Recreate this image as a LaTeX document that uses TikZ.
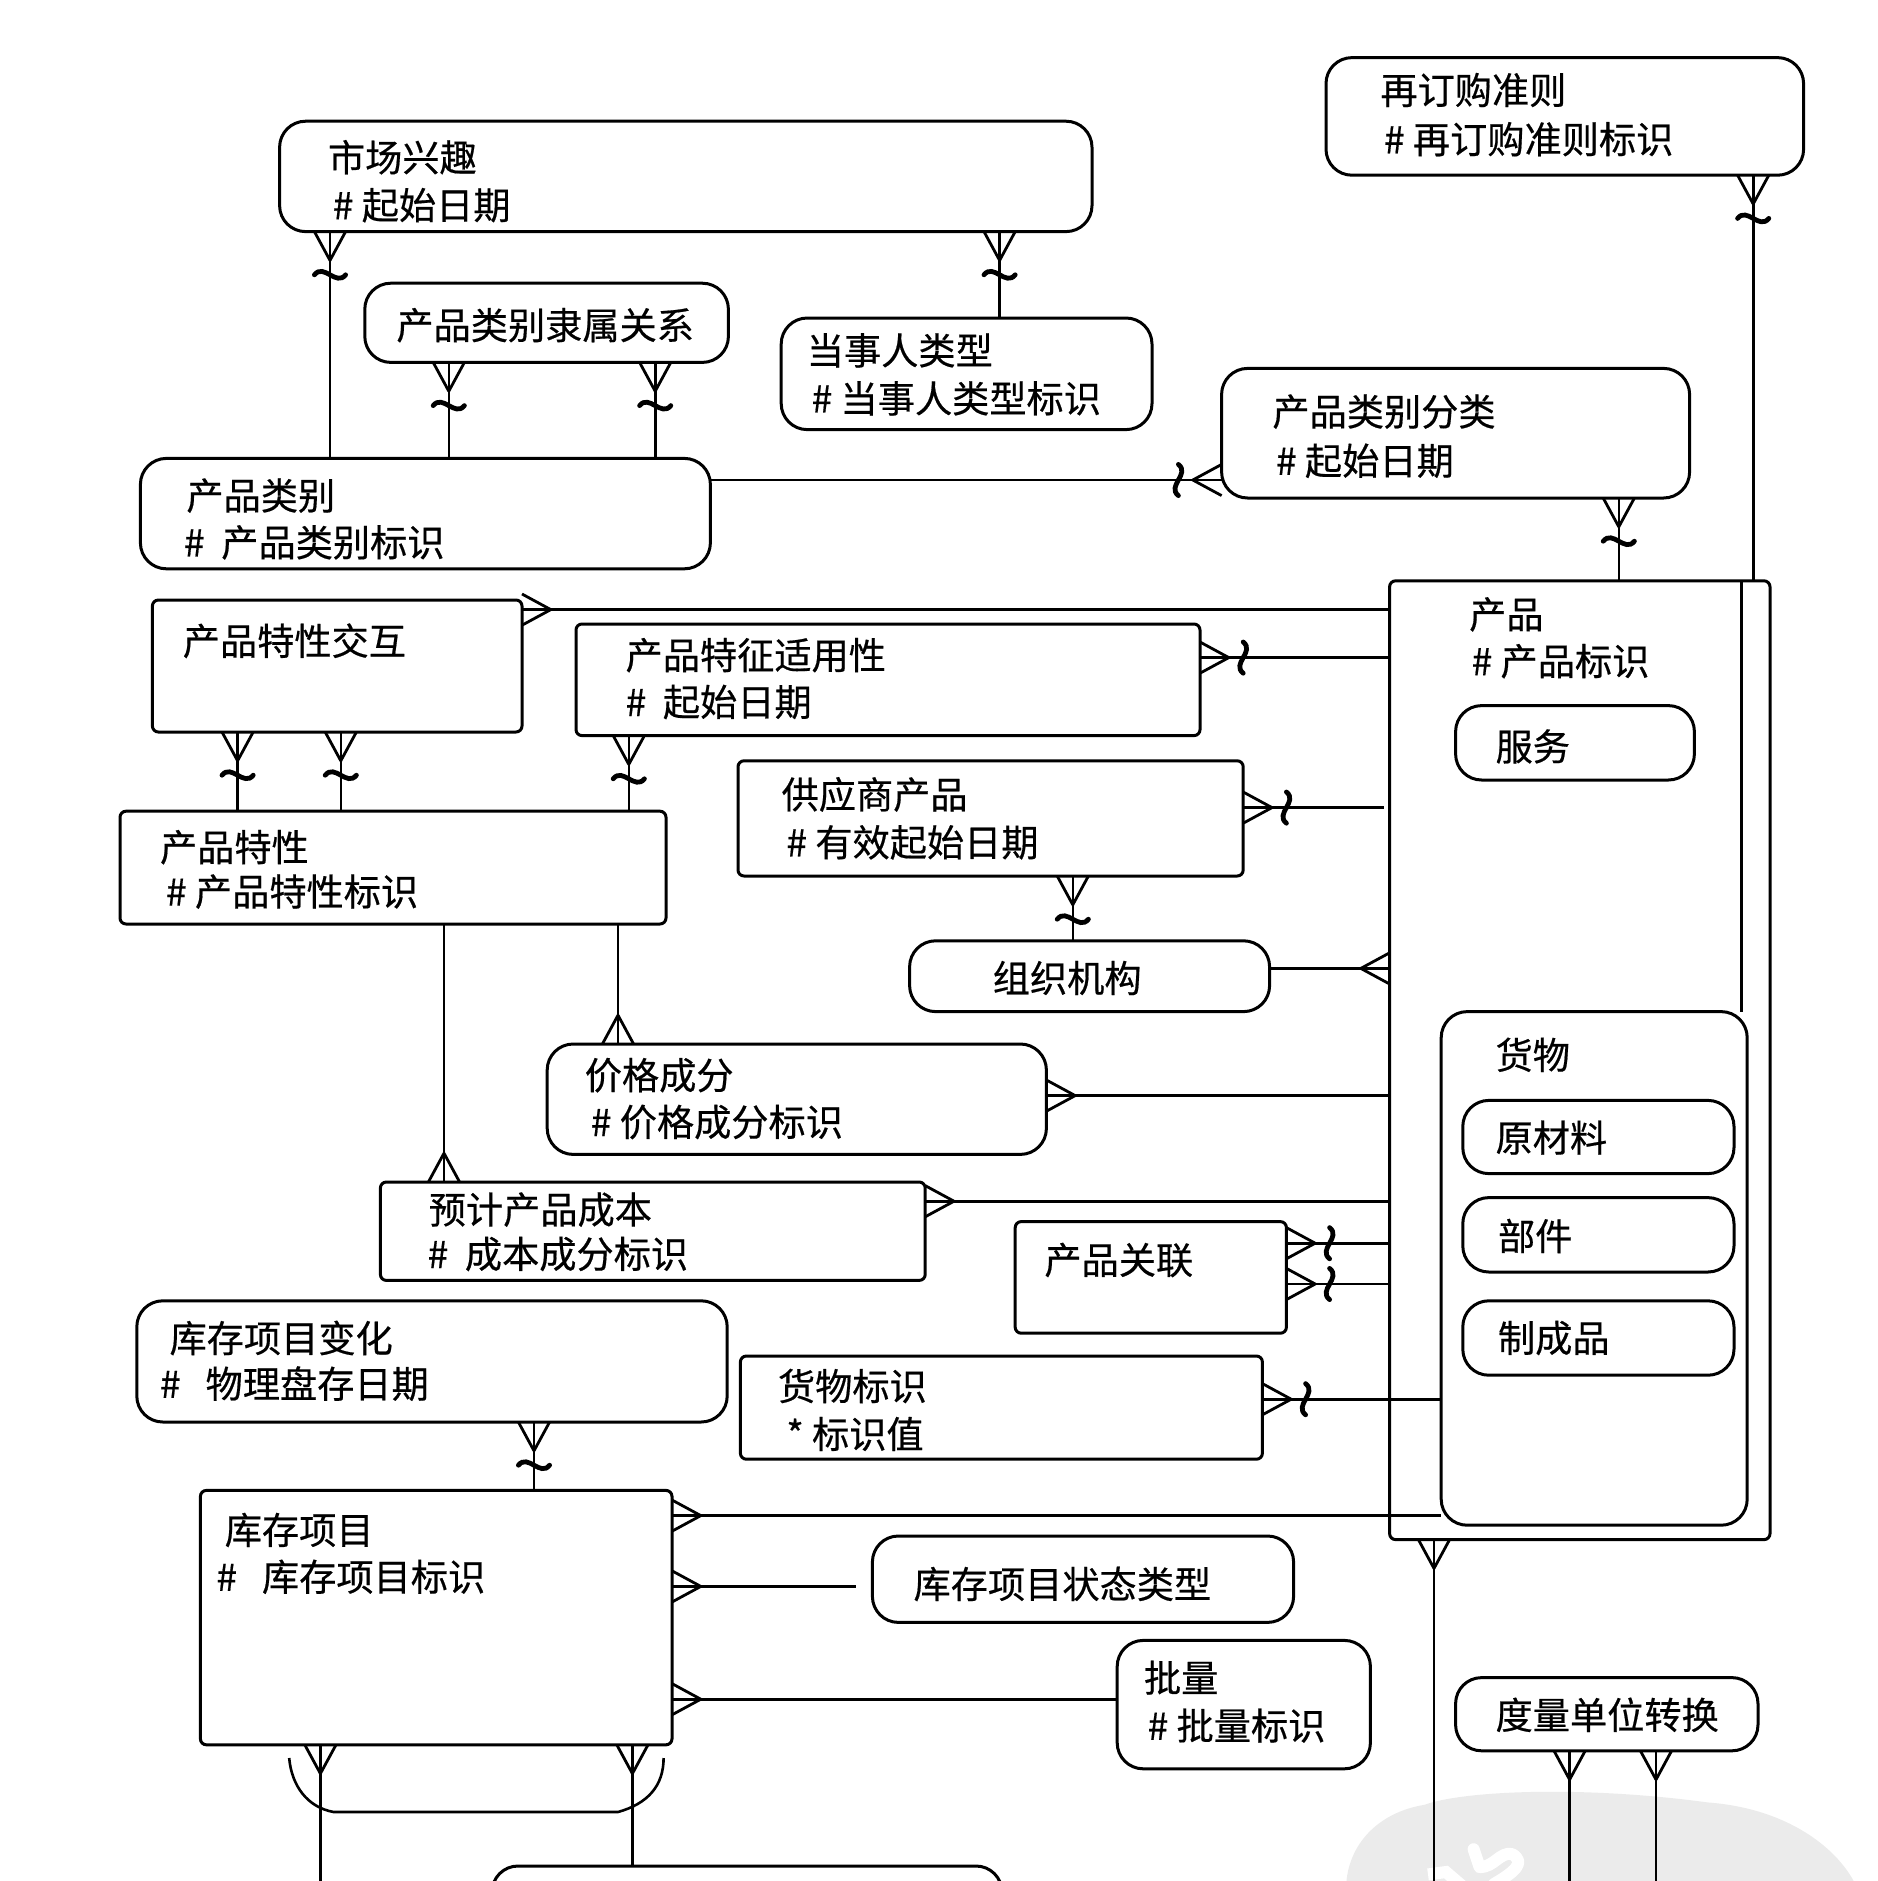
\documentclass[tikz,border=0pt]{standalone}
\usepackage{fontspec}
\setmainfont{Noto Sans CJK SC}[FakeBold=0.5]
\tikzset{
  rbox/.style={draw,line width=1.5pt,rounded corners=13pt,inner sep=0pt,outer sep=0pt},
  sbox/.style={draw,line width=1.5pt,rounded corners=3pt,inner sep=0pt,outer sep=0pt},
  lbl/.style={anchor=west,inner sep=0pt,font=\fontsize{18.6}{20}\selectfont},
  link/.style={line width=1.3pt},
  tipstart/.style={at start,sloped,allow upside down},
  crow/.pic={\draw[line width=1.4pt,line join=round](0,-13)--(24,0)--(0,13);},
  crowopt/.pic={\draw[line width=1.4pt,line join=round](0,-13)--(24,0)--(0,13);
    \draw[line width=2.4pt,line cap=round](36,-13).. controls (46,-5) and (26,5) ..(36,13);}
}
\begin{document}
\begin{tikzpicture}[x=0.6pt,y=-0.6pt]
\useasboundingbox (0,0) rectangle (1565,1567.5);
\clip (0,0) rectangle (1565,1567.5);
% watermark
\fill[black!8](1122,1568).. controls (1125,1535) and (1150,1510) .. (1187,1504)
  .. controls (1220,1492) and (1320,1488) .. (1423,1502)
  .. controls (1490,1507) and (1530,1540) .. (1545,1568) -- cycle;
\draw[white,line width=6pt,line cap=round,line join=round](1228,1541)--(1233,1556)
  .. controls (1245,1556) and (1250,1543) .. (1260,1545)
  .. controls (1272,1552) and (1262,1560) .. (1245,1570);
\draw[white,line width=6pt](1190,1562)--(1205,1560)--(1219,1572);
% rounded entities
\foreach \n/\a/\b/\c/\d in {reorder/1105/48/1503/146,market/233/101/910/193,
  rollup/304/236/607/302,party/651/265/960/358,classif/1018/307/1408/415,
  category/117/382/592/474,service/1213/588/1412/650,goods/1201/843/1456/1271,
  raw/1219/917/1445/978,part/1219/998/1445/1060,finished/1219/1084/1445/1146,
  org/758/784/1058/843,price/456/870/872/962,itemvar/114/1084/606/1185,
  status/727/1280/1078/1352,lot/931/1367/1142/1474,uomconv/1213/1398/1465/1459,
  bottom/410/1555/835/1700}
  \node[rbox,minimum width=(\c-\a)*0.6pt,minimum height=(\d-\b)*0.6pt](\n)at({(\a+\c)/2},{(\b+\d)/2}){};
% square entities
\foreach \n/\a/\b/\c/\d in {interact/127/500/435/610,applic/480/520/1000/613,
  product/1158/484/1475/1283,supplier/615/634/1036/730,feature/100/676/555/770,
  estcost/317/985/771/1067,assoc/846/1018/1072/1111,goodsid/617/1130/1052/1216,
  item/167/1242/560/1454}
  \node[sbox,minimum width=(\c-\a)*0.6pt,minimum height=(\d-\b)*0.6pt](\n)at({(\a+\c)/2},{(\b+\d)/2}){};
% labels
\foreach \n/\x/\y/\t in {t1/1150/75/再订购准则,t2/1153/116/\# 再订购准则标识,
  t3/273/131/市场兴趣,t4/277/171/\# 起始日期,t5/330/271/产品类别隶属关系,
  t6/672/292/当事人类型,t7/676/332/\# 当事人类型标识,t8/1060/343/产品类别分类,
  t9/1063/384/\# 起始日期,t10/155/413/产品类别,t11/153/452/\# ~产品类别标识,
  t12/152/534/产品特性交互,t13/521/546/产品特征适用性,t14/521/585/\# ~起始日期,
  t15/1224/512/产品,t16/1226/551/\# 产品标识,t17/1246/622/服务,t18/1246/879/货物,
  t19/1246/948/原材料,t20/1248/1030/部件,t21/1248/1115/制成品,
  t22/651/662/供应商产品,t23/655/702/\# 有效起始日期,t24/133/706/产品特性,
  t25/138/743/\# 产品特性标识,t26/827/815/组织机构,t27/487/896/价格成分,
  t28/492/935/\# 价格成分标识,t29/357/1008/预计产品成本,t30/356/1045/\# ~成本成分标识,
  t31/870/1050/产品关联,t32/648/1155/货物标识,t33/655/1195/* 标识值,
  t34/141/1115/库存项目变化,t35/133/1153/\# ~~物理盘存日期,t36/187/1275/库存项目,
  t37/180/1314/\# ~~库存项目标识,t38/761/1320/库存项目状态类型,t39/953/1398/批量,
  t40/956/1438/\# 批量标识,t41/1246/1429/度量单位转换}
  \node[lbl](\n)at(\x,\y){\t};
% free ends
\coordinate (supgap) at (1153,673);
\coordinate (statusgap) at (713,1322);
\foreach \x in {267,1195,1308,1380} \coordinate (end\x) at (\x,1567.5);
% vertical, crow and bar at the upper box
\foreach \a/\b/\x in {reorder/product/1461,market/category/275,market/party/833,
  rollup/category/374,rollup/category/546,classif/product/1349,interact/feature/198,
  interact/feature/284,applic/feature/524,supplier/org/894,itemvar/item/445}
  \draw[link](\a.south -| \x,0)--(\b.north -| \x,0)pic[tipstart]{crowopt};
% vertical, crow at the lower box
\foreach \a/\b/\x in {feature/price/515,feature/estcost/370}
  \draw[link](\b.north -| \x,0)--(\a.south -| \x,0)pic[tipstart]{crow};
% horizontal, crow and bar at the left box
\foreach \a/\b/\y in {applic/product/548,assoc/product/1036,assoc/product/1070,goodsid/goods/1166}
  \draw[link](\a.east |- 0,\y)--(\b.west |- 0,\y)pic[tipstart]{crowopt};
% horizontal, crow at the left box
\foreach \a/\b/\y in {interact/product/508,price/product/913,estcost/product/1001,
  item/goods/1263,item/lot/1416}
  \draw[link](\a.east |- 0,\y)--(\b.west |- 0,\y)pic[tipstart]{crow};
\draw[link](supplier.east |- supgap)--(supgap)pic[tipstart]{crowopt};
\draw[link](item.east |- statusgap)--(statusgap)pic[tipstart]{crow};
\draw[link](classif.west |- 0,400)--(category.east |- 0,400)pic[tipstart]{crowopt};
\draw[link](product.west |- 0,807)--(org.east |- 0,807)pic[tipstart]{crow};
% to the foot of the page
\draw[link](item.south -| end267)--(end267)pic[tipstart]{crow};
\draw[link](item.south -| 527,0)--(bottom.north -| 527,0)pic[tipstart]{crow};
\draw[link](product.south -| end1195)--(end1195)pic[tipstart]{crow};
\draw[link](uomconv.south -| end1308)--(end1308)pic[tipstart]{crow};
\draw[link](uomconv.south -| end1380)--(end1380)pic[tipstart]{crow};
% arc and inner rule
\draw[link](241,1465).. controls (243,1488) and (256,1506) .. (278,1510)--(515,1510)
  .. controls (540,1503) and (553,1488) .. (553,1465);
\draw[link](product.north -| 1451,0)--(goods.north -| 1451,0);
\end{tikzpicture}
\end{document}
